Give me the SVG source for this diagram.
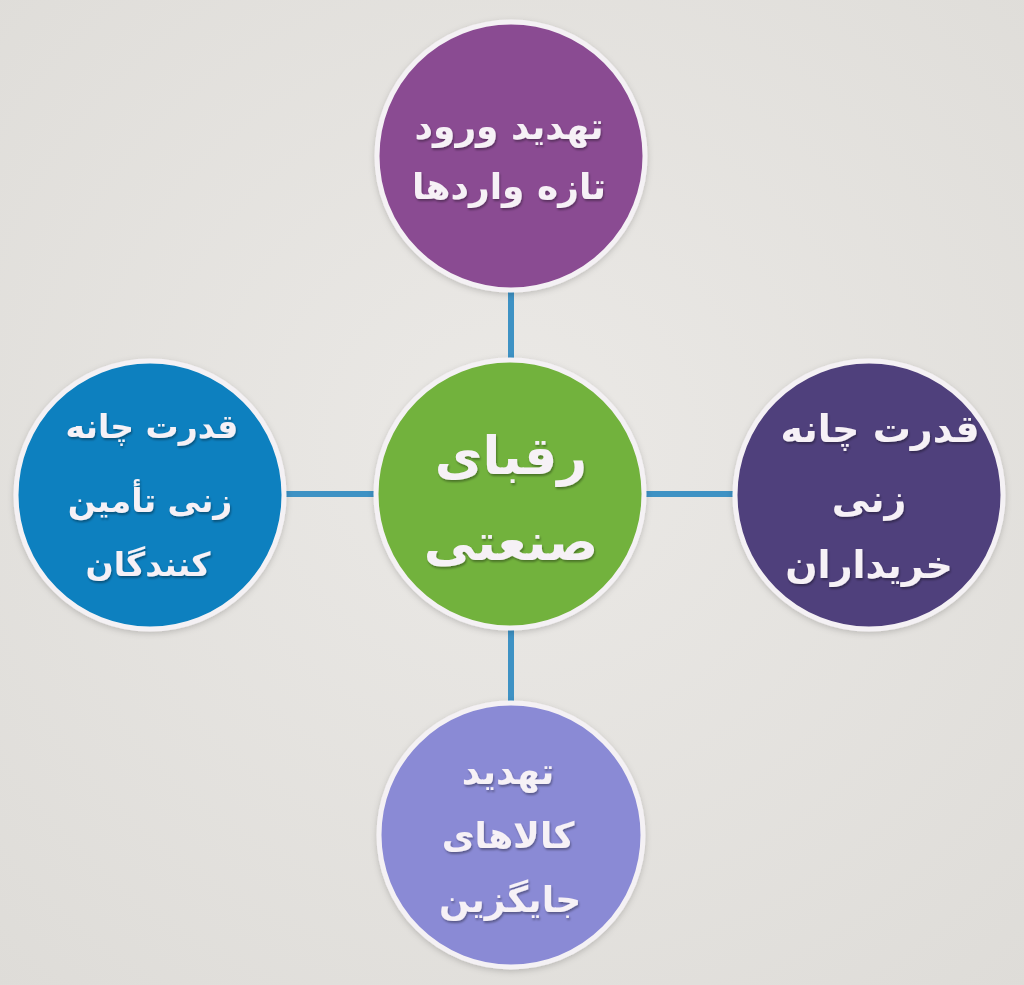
<svg xmlns="http://www.w3.org/2000/svg" width="1024" height="985" viewBox="0 0 1024 985">
<defs>
<filter id="sh" x="-20%" y="-20%" width="140%" height="140%">
<feDropShadow dx="0" dy="2" stdDeviation="3" flood-color="#000" flood-opacity="0.18"/>
</filter>
<filter id="tsh" x="-10%" y="-20%" width="120%" height="140%">
<feDropShadow dx="1" dy="2" stdDeviation="1.2" flood-color="#000" flood-opacity="0.35"/>
</filter>
<radialGradient id="bg" cx="50%" cy="45%" r="75%">
<stop offset="0" stop-color="#ebe9e6"/>
<stop offset="1" stop-color="#dedcd8"/>
</radialGradient>
</defs>
<style>
.ring{stroke:#f4f1f4;stroke-width:5}
.t{font-family:"DejaVu Sans","Noto Sans",sans-serif;font-weight:bold;fill:#f6f1f6;text-anchor:middle;direction:rtl}
.conn{stroke:#3e92c4;stroke-width:6;fill:none}
</style>
<rect width="1024" height="985" fill="url(#bg)"/>
<g id="connectors">
<line class="conn" x1="511" y1="286" x2="511" y2="362"/>
<line class="conn" x1="286" y1="494" x2="374" y2="494"/>
<line class="conn" x1="646" y1="494" x2="733" y2="494"/>
<line class="conn" x1="511" y1="626" x2="511" y2="703"/>
</g>
<g id="node-top">
<circle class="ring" cx="511" cy="156" r="134" fill="#8a4b92" filter="url(#sh)"/>
<text class="t" font-size="36" filter="url(#tsh)"><tspan x="509" y="139">تهدید ورود</tspan><tspan x="509" y="199">تازه واردها</tspan></text>
</g>
<g id="node-left">
<circle class="ring" cx="150" cy="495" r="134" fill="#0a80bf" filter="url(#sh)"/>
<text class="t" font-size="33" filter="url(#tsh)"><tspan x="152" y="438">قدرت چانه</tspan><tspan x="150" y="512">زنی تأمین</tspan><tspan x="148" y="576">کنندگان</tspan></text>
</g>
<g id="node-right">
<circle class="ring" cx="869" cy="495" r="134" fill="#4f3f7b" filter="url(#sh)"/>
<text class="t" font-size="38" filter="url(#tsh)"><tspan x="880" y="442">قدرت چانه</tspan><tspan x="869" y="512">زنی</tspan><tspan x="869" y="578">خریداران</tspan></text>
</g>
<g id="node-bottom">
<circle class="ring" cx="511" cy="835" r="132" fill="#8a8ad5" filter="url(#sh)"/>
<text class="t" font-size="36" filter="url(#tsh)"><tspan x="508" y="784">تهدید</tspan><tspan x="508" y="848">کالاهای</tspan><tspan x="510" y="912">جایگزین</tspan></text>
</g>
<g id="node-center">
<circle class="ring" cx="510" cy="494" r="134" fill="#72b23c" stroke="#e6f0d6" filter="url(#sh)"/>
<text class="t" font-size="52" filter="url(#tsh)"><tspan x="511" y="474">رقبای</tspan><tspan x="511" y="560">صنعتی</tspan></text>
</g>
</svg>
